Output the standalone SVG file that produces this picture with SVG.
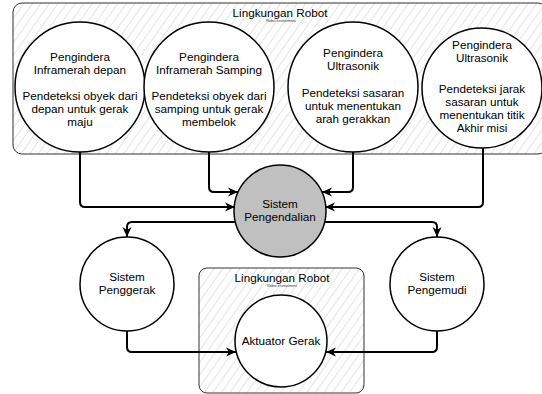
<svg xmlns="http://www.w3.org/2000/svg" width="542" height="394" viewBox="0 0 542 394">
<style>
.cont{fill:url(#hatch);stroke:#333;stroke-width:1}
.node{fill:#fff;stroke:#000;stroke-width:1.5}
.gray{fill:#c0c0c0;stroke:#000;stroke-width:1.5}
text{font-family:"Liberation Sans",Arial,sans-serif;font-size:11.7px;fill:#000;text-anchor:middle}
.small{font-size:3.5px;fill:#333}
.edge{fill:none;stroke:#000;stroke-width:2}
</style>
<defs>
<pattern id="hatch" patternUnits="userSpaceOnUse" width="7" height="7" patternTransform="rotate(35)">
<rect width="7" height="7" fill="#fff"/>
<line x1="0" y1="0" x2="0" y2="7" stroke="#c4c4c4" stroke-width="0.9"/>
</pattern>
<marker id="arr" markerUnits="userSpaceOnUse" markerWidth="12" markerHeight="12" refX="10" refY="5" orient="auto">
<path d="M0,0.5 L10,5 L0,9.5 L3,5 Z" fill="#000"/>
</marker>
</defs>

<g id="env-top">
<rect class="cont" x="13" y="3" width="534" height="151" rx="9"/>
<text x="280" y="17">Lingkungan Robot</text>
<text class="small" x="281" y="22">Robot environment</text>
</g>

<g id="sensor-ir-front">
<circle class="node" cx="80" cy="87" r="65"/>
<text x="80" y="61">Pengindera</text>
<text x="80" y="74">Inframerah depan</text>
<text x="80" y="100">Pendeteksi obyek dari</text>
<text x="80" y="113">depan untuk gerak</text>
<text x="80" y="126">maju</text>
</g>

<g id="sensor-ir-side">
<circle class="node" cx="209" cy="87" r="65"/>
<text x="209" y="61">Pengindera</text>
<text x="209" y="74">Inframerah Samping</text>
<text x="209" y="100">Pendeteksi obyek dari</text>
<text x="209" y="113">samping untuk gerak</text>
<text x="209" y="126">membelok</text>
</g>

<g id="sensor-us-1">
<circle class="node" cx="353" cy="87" r="65"/>
<text x="353" y="57">Pengindera</text>
<text x="353" y="70">Ultrasonik</text>
<text x="353" y="97">Pendeteksi sasaran</text>
<text x="353" y="110">untuk menentukan</text>
<text x="353" y="123">arah gerakkan</text>
</g>

<g id="sensor-us-2">
<circle class="node" cx="482" cy="88" r="60"/>
<text x="482" y="49">Pengindera</text>
<text x="482" y="62">Ultrasonik</text>
<text x="482" y="93">Pendeteksi jarak</text>
<text x="482" y="106">sasaran untuk</text>
<text x="482" y="119">menentukan titik</text>
<text x="482" y="132">Akhir misi</text>
</g>

<g id="env-bottom">
<rect class="cont" x="199" y="268" width="165" height="125" rx="8"/>
<text x="282" y="282">Lingkungan Robot</text>
<text class="small" x="282" y="287">Robot environment</text>
</g>

<g id="control">
<circle class="gray" cx="280" cy="211" r="46"/>
<text x="280" y="208">Sistem</text>
<text x="280" y="221">Pengendalian</text>
</g>

<g id="penggerak">
<circle class="node" cx="127" cy="284" r="47"/>
<text x="127" y="281">Sistem</text>
<text x="127" y="294">Penggerak</text>
</g>

<g id="pengemudi">
<circle class="node" cx="437" cy="284" r="47"/>
<text x="437" y="281">Sistem</text>
<text x="437" y="294">Pengemudi</text>
</g>

<g id="aktuator">
<circle class="node" cx="281" cy="341" r="46"/>
<text x="281" y="345">Aktuator Gerak</text>
</g>

<g id="connectors">
<path class="edge" marker-end="url(#arr)" d="M80 152 V202 Q80 207 85 207 H235"/>
<path class="edge" marker-end="url(#arr)" d="M209 152 V187 Q209 192 214 192 H238"/>
<path class="edge" marker-end="url(#arr)" d="M353 152 V187 Q353 192 348 192 H322"/>
<path class="edge" marker-end="url(#arr)" d="M483 148 V202 Q483 207 478 207 H325"/>
<path class="edge" marker-end="url(#arr)" d="M235 222 H132 Q127 222 127 227 V237"/>
<path class="edge" marker-end="url(#arr)" d="M325 222 H432 Q437 222 437 227 V237"/>
<path class="edge" marker-end="url(#arr)" d="M127 331 V347 Q127 352 132 352 H236"/>
<path class="edge" marker-end="url(#arr)" d="M437 331 V347 Q437 352 432 352 H326"/>
</g>
</svg>
